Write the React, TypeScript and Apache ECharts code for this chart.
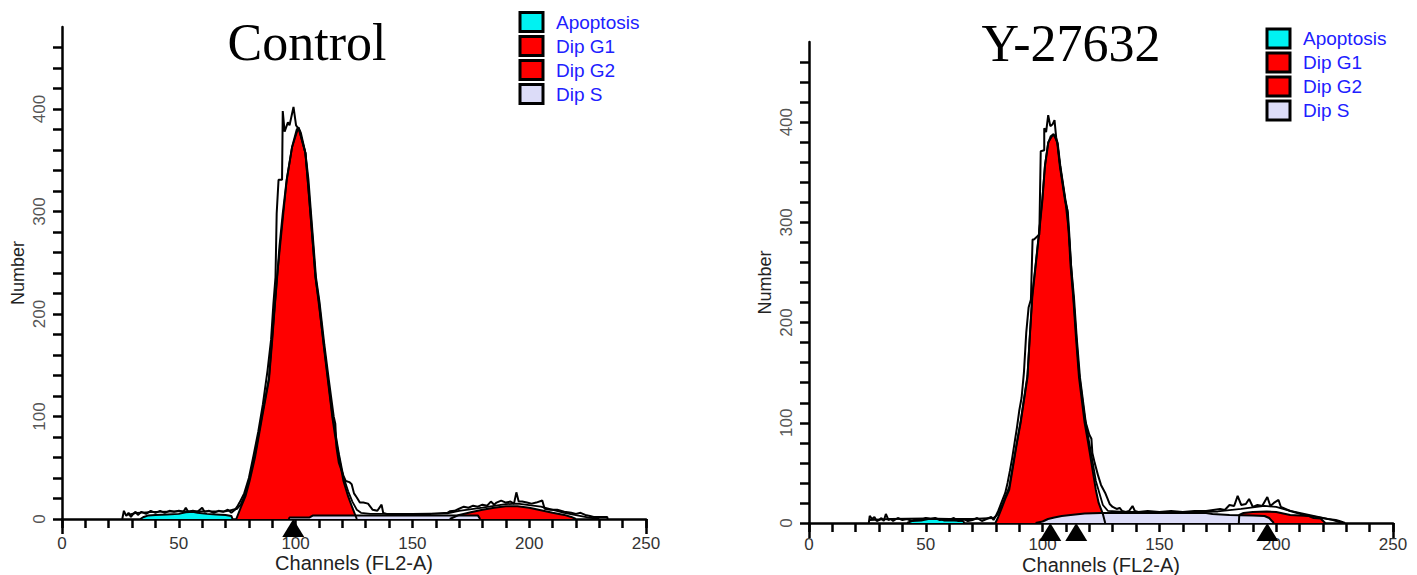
import React, { useEffect, useRef } from 'react';
import * as echarts from 'echarts';

// ---------- axis ticks / labels ----------
const xTickValues = [0, 10, 20, 30, 40, 50, 60, 70, 80, 90, 100, 110, 120, 130, 140, 150, 160, 170, 180, 190, 200, 210, 220, 230, 240, 250];
const xLabelValues = [0, 50, 100, 150, 200, 250];
const xEndTicks = [0, 250];
const yTickValues = [0, 20, 40, 60, 80, 100, 120, 140, 160, 180, 200, 220, 240, 260, 280, 300, 320, 340, 360, 380, 400, 420, 440, 460];
const yLabelValues = [0, 100, 200, 300, 400];
const legendNames = ['Apoptosis', 'Dip G1', 'Dip G2', 'Dip S'];
const titles = ['Control', 'Y-27632'];

// ---------- Control ----------
const ctrlRaw: number[][] = [
  [25.8, 0], [26.5, 8], [27.5, 3], [28.5, 6], [29.5, 2], [30.5, 5], [31.5, 7], [32.5, 4], [34, 7], [36, 5], [38, 8], [40, 6], [42, 8], [44, 6], [46, 8], [48, 7], [50, 8], [52, 7], [53, 11], [54, 7], [56, 8], [58, 7], [60, 11], [61, 7], [63, 8], [65, 6], [67, 8], [69, 7], [71, 9], [72.5, 6], [74, 9], [75, 12], [76, 16], [78, 25], [80, 40], [82, 62], [84, 85], [86, 112], [88, 145], [89.5, 175], [90.5, 210], [91.4, 236], [91.9, 298], [92.7, 331], [94.2, 331], [94.5, 398], [95.3, 378], [96.7, 387], [97.4, 384], [99.1, 402], [100.2, 384], [101.5, 380], [104.2, 357], [105.5, 331], [106.6, 298], [107.7, 266], [108.7, 236], [110.2, 212], [112.3, 170], [114.2, 136], [116.3, 100], [117, 93], [117.5, 70], [118.5, 55], [120.5, 42], [121.5, 37], [123, 36], [124, 34], [125, 25], [126.2, 21], [127.5, 16], [129, 16], [131, 15], [133, 9], [135, 8], [136.8, 14], [137.5, 6], [139, 5], [142, 5], [150, 5], [158, 5], [165, 6], [166, 7.5], [168, 8], [170, 10], [172, 12], [174, 11], [176, 13], [178, 12], [180, 14], [182, 13], [183.6, 17], [185, 14], [186, 16], [188, 18], [190, 16], [192, 17], [193.5, 15], [194.5, 26], [195.5, 17], [197, 17], [199, 16], [201, 15], [203, 16], [205.6, 18], [206.6, 10], [209, 9], [212, 9], [215, 7], [218, 6], [220, 5], [222, 6], [224, 4], [226, 3], [227.6, 2], [230, 2], [232, 2], [233.4, 2], [233.6, 0]
];
const ctrlFit: number[][] = [
  [28, 4], [32, 6], [40, 7], [50, 7.5], [60, 7.5], [70, 7.5], [75, 10], [76.5, 14], [78.5, 25], [80.3, 40], [82.6, 63], [85.7, 102], [88.6, 138], [92.1, 237], [96.2, 331], [98.5, 363], [101.2, 382], [104.2, 357], [108.5, 236], [113.8, 138], [115.7, 102], [118.6, 63], [120.5, 41], [122.5, 27], [124.3, 17], [126.2, 9], [128, 6], [132, 5], [150, 5], [165, 5.5], [170, 8], [180, 11], [190, 14.5], [195, 15], [205, 12], [215, 6], [225, 1.5], [230, 0]
];
const ctrlApo: number[][] = [
  [33.5, 0], [35, 2], [37, 3.5], [40, 4], [45, 4.5], [50, 5], [53, 6.5], [56, 7], [58, 6], [62, 5], [66, 4.5], [70, 4], [72.5, 3], [73, 0]
];
const ctrlG1: number[][] = [
  [74.6, 0], [76.5, 11], [78.5, 22], [80.3, 37], [82.6, 60], [84, 78], [85.7, 100], [87, 116], [88.6, 136], [90, 175], [91, 205], [92.1, 236], [93.1, 266], [94.5, 298], [96.2, 331], [98.5, 363], [100.5, 380], [101.2, 382], [102.2, 377], [104.2, 357], [105.2, 331], [106.4, 298], [107.5, 266], [108.5, 236], [110, 212], [112, 170], [113.8, 136], [115.7, 100], [117, 80], [118.6, 60], [120.5, 37], [122.5, 22], [124.3, 11], [126.2, 0]
];
const ctrlG2: number[][] = [
  [166, 0], [170, 4], [175, 6.5], [180, 9], [185, 11], [190, 12.5], [195, 12.5], [200, 11], [205, 8.5], [210, 6], [215, 4], [218, 2], [220, 0]
];
const ctrlS: number[][] = [
  [97, 0], [97.5, 1.5], [106, 1.5], [107.5, 3.5], [178, 3.5], [179, 0]
];
const ctrlMarkers = [99];

// ---------- Y-27632 ----------
const yRaw: number[][] = [
  [25.6, 0], [26, 7], [27, 4], [28, 6], [29, 2], [30, 3], [31, 5], [32, 2], [32.9, 9], [34, 3], [35, 4], [36, 2], [38, 5], [40, 3], [42, 4], [44, 2], [46, 4], [48, 3], [50, 5], [52, 4], [54, 5], [56, 3], [58, 4], [60, 3], [62, 5], [64, 2], [66, 4], [68, 2], [70, 3], [72, 5], [74, 2], [76, 4], [78, 6], [79, 3], [80, 7], [81, 12], [82, 18], [83, 24], [84, 30], [85, 40], [86, 52], [87, 65], [88, 80], [89, 95], [90, 112], [91, 125], [92, 150], [93, 190], [94, 215], [95, 223], [95.7, 283], [96.3, 283], [98.6, 288], [99.2, 371], [100.7, 372], [100.7, 394], [101.5, 390], [102.4, 407], [103.3, 396], [104.3, 398], [105.1, 402], [105.8, 385], [106.5, 378], [107.6, 356], [109.8, 322], [110.8, 310], [111.4, 289], [112.2, 256], [113.4, 226], [114.6, 185], [116, 145], [118.5, 100], [120, 88], [120.9, 84], [121.3, 70], [122.3, 60], [123.8, 47], [125, 38], [126.8, 30], [128.7, 19], [130, 16], [131.7, 14], [133, 15], [134, 12], [135.6, 11], [137, 12], [138.5, 17], [139.5, 12], [141, 11], [145, 12], [150, 11], [155, 12], [160, 11], [165, 12], [170, 12], [173, 13], [176, 14], [178, 13], [180, 18], [182, 17], [183.5, 27], [185, 18], [187, 19], [188.4, 24], [190, 16], [192, 18], [194, 17], [196.2, 26], [197.5, 17], [199, 20], [201, 23], [202, 16], [204, 14], [206, 12], [209, 10], [212, 8], [214, 7], [217, 6], [219.7, 5], [222, 4], [225.5, 3], [227, 2], [229.5, 0]
];
const yFit: number[][] = [
  [26, 3], [35, 4], [50, 4.5], [60, 4], [70, 4], [79, 5], [80.5, 8], [82.7, 18], [85.7, 36], [87.6, 62], [90.6, 102], [93.5, 147], [95.6, 228], [97, 258], [98.5, 291], [99.9, 324], [101, 357], [102.4, 380], [104.6, 388], [106.3, 380], [107.4, 358], [109.6, 324], [111.2, 291], [113.1, 228], [115.6, 150], [118, 106], [120.9, 68], [122.8, 42], [125.8, 18], [128, 12], [135, 11], [165, 11], [175, 11.5], [185, 14], [195, 17], [200, 16], [206, 12], [212, 9], [218, 6], [224, 3], [228, 0]
];
const yApo: number[][] = [
  [42, 0], [44, 2], [48, 2.5], [51, 4], [56, 4], [58, 2.5], [62, 2.5], [66, 2], [66.5, 0]
];
const yG1: number[][] = [
  [79.8, 0], [81, 6], [82.7, 16], [84, 24], [85.7, 33], [87.6, 60], [89, 80], [90.6, 100], [92, 122], [93.5, 145], [94.5, 185], [95.6, 226], [97, 256], [98.5, 289], [99.9, 322], [101, 356], [102.4, 379], [103.5, 386], [104.6, 388], [105.5, 385], [106.3, 379], [107.4, 356], [109.6, 322], [110.6, 312], [111.2, 289], [112, 256], [113.1, 226], [114.3, 185], [115.6, 145], [118, 100], [119.5, 80], [120.9, 60], [122.8, 33], [124, 20], [125.8, 9], [126.8, 0]
];
const yG2: number[][] = [
  [184, 0], [184.2, 8], [186, 10], [190, 11], [196, 11.5], [200, 11], [203, 9.5], [206, 8], [210, 7.5], [214, 7], [216, 5], [219, 4.5], [221, 0]
];
const yS: number[][] = [
  [97, 0], [100, 1.5], [102.3, 4], [105, 5.5], [108.2, 7], [112, 8], [118, 9.5], [125, 10], [170, 10], [172.7, 9], [180, 8], [190, 7.5], [195, 7], [197, 5], [199, 0]
];
const yMarkers = [103.3, 114.4, 196.2];

const SANS = '"Liberation Sans", Arial, Helvetica, sans-serif';
const SERIF = '"Liberation Serif", "Times New Roman", serif';
const RED = '#ff0000';
const CYAN = '#00f2f2';
const LAVENDER = '#dcdcf8';

function areaSeries(name: string, data: number[][], color: string, axis: number) {
  return {
    type: 'line', name, data, xAxisIndex: axis * 2, yAxisIndex: axis,
    symbol: 'none', showSymbol: false, silent: true,
    itemStyle: { color },
    lineStyle: { color: '#000', width: 2 },
    areaStyle: { color, opacity: 1 },
  };
}
function lineSeries(name: string, data: number[][], axis: number, width: number) {
  return {
    type: 'line', name, data, xAxisIndex: axis * 2, yAxisIndex: axis,
    symbol: 'none', showSymbol: false, silent: true,
    itemStyle: { color: '#000' },
    lineStyle: { color: '#000', width },
  };
}
function markerSeries(data: number[], axis: number) {
  return {
    type: 'scatter', name: 'markers', data: data.map((v) => [v, 0]),
    xAxisIndex: axis * 2, yAxisIndex: axis, symbol: 'triangle',
    symbolSize: [22, 18], symbolOffset: [0, 9], clip: false, silent: true,
    itemStyle: { color: '#000', opacity: 1 }, z: 5,
  };
}

function xAxes(g: number, labelMargin: number, nameGap: number) {
  const line = { color: '#000', width: 2.5 };
  return [
    {
      type: 'value', gridIndex: g, position: 'bottom', min: 0, max: 250, interval: 10,
      axisLine: { show: true, onZero: false, lineStyle: line },
      axisTick: { show: true, length: 9, lineStyle: line, customValues: xTickValues },
      axisLabel: { customValues: xLabelValues, margin: labelMargin, fontSize: 17, lineHeight: 17, color: '#333', fontFamily: SANS },
      splitLine: { show: false },
      name: 'Channels (FL2-A)', nameLocation: 'middle', nameGap, nameMoveOverlap: false,
      nameTextStyle: { fontSize: 20, lineHeight: 20, color: '#222', fontFamily: SANS },
    },
    {
      type: 'value', gridIndex: g, position: 'bottom', min: 0, max: 250, interval: 10,
      axisLine: { show: false, onZero: false },
      axisTick: { show: true, length: 15, lineStyle: line, customValues: xEndTicks },
      axisLabel: { show: false },
      splitLine: { show: false },
    },
  ];
}
function yAxis(g: number) {
  const line = { color: '#000', width: 2.5 };
  return {
    type: 'value', gridIndex: g, min: 0, max: 480, interval: 20,
    axisLine: { show: true, onZero: false, lineStyle: line },
    axisTick: { show: true, length: 9, lineStyle: line, customValues: yTickValues },
    axisLabel: { customValues: yLabelValues, rotate: 90, margin: 14, fontSize: 17, color: '#555', fontFamily: SANS },
    splitLine: { show: false },
    name: 'Number', nameLocation: 'middle', nameGap: 35, nameRotate: 90, nameMoveOverlap: false,
    nameTextStyle: { fontSize: 18, color: '#222', fontFamily: SANS },
  };
}
function legend(left: number, top: number) {
  const colors = [CYAN, RED, RED, LAVENDER];
  return {
    orient: 'vertical', left, top, padding: 0, itemGap: 2, itemWidth: 23, itemHeight: 19,
    icon: 'rect', selectedMode: false,
    itemStyle: { borderColor: '#000', borderWidth: 3 },
    textStyle: { color: '#2020ff', fontSize: 19, lineHeight: 19, fontFamily: SANS, padding: [0, 0, 0, 8] },
    data: legendNames.map((n, i) => ({ name: n, itemStyle: { color: colors[i], borderColor: '#000', borderWidth: 3 } })),
  };
}

export default function App() {
  const ref = useRef<HTMLDivElement>(null);
  useEffect(() => {
    if (!ref.current) return;
    const chart = echarts.init(ref.current, undefined, { renderer: 'svg' });
    chart.setOption({
      animation: false,
      backgroundColor: '#fff',
      grid: [
        { left: 62, top: 27, width: 584, height: 492, containLabel: false, outerBoundsMode: 'none' },
        { left: 809, top: 42, width: 584, height: 481, containLabel: false, outerBoundsMode: 'none' },
      ],
      xAxis: [...xAxes(0, 16, 34), ...xAxes(1, 13, 32)],
      yAxis: [yAxis(0), yAxis(1)],
      legend: [legend(518.5, 11), legend(1265.5, 27.5)],
      graphic: [
        { type: 'text', x: 307, y: 42, style: { text: titles[0], fontSize: 52, fontFamily: SERIF, fill: '#000', align: 'center', verticalAlign: 'middle' } },
        { type: 'text', x: 1071, y: 43, style: { text: titles[1], fontSize: 52, fontFamily: SERIF, fill: '#000', align: 'center', verticalAlign: 'middle' } },
      ],
      series: [
        areaSeries('Dip G1', ctrlG1, RED, 0),
        areaSeries('Dip G2', ctrlG2, RED, 0),
        areaSeries('Dip S', ctrlS, LAVENDER, 0),
        areaSeries('Apoptosis', ctrlApo, CYAN, 0),
        lineSeries('fit', ctrlFit, 0, 1.8),
        lineSeries('data', ctrlRaw, 0, 2),
        markerSeries(ctrlMarkers, 0),
        areaSeries('Dip G1', yG1, RED, 1),
        areaSeries('Dip G2', yG2, RED, 1),
        areaSeries('Dip S', yS, LAVENDER, 1),
        areaSeries('Apoptosis', yApo, CYAN, 1),
        lineSeries('fit', yFit, 1, 1.8),
        lineSeries('data', yRaw, 1, 2),
        markerSeries(yMarkers, 1),
      ],
    });
    return () => chart.dispose();
  }, []);
  return <div ref={ref} style={{ position: 'absolute', left: 0, top: 0, width: 1417, height: 575 }} />;
}
